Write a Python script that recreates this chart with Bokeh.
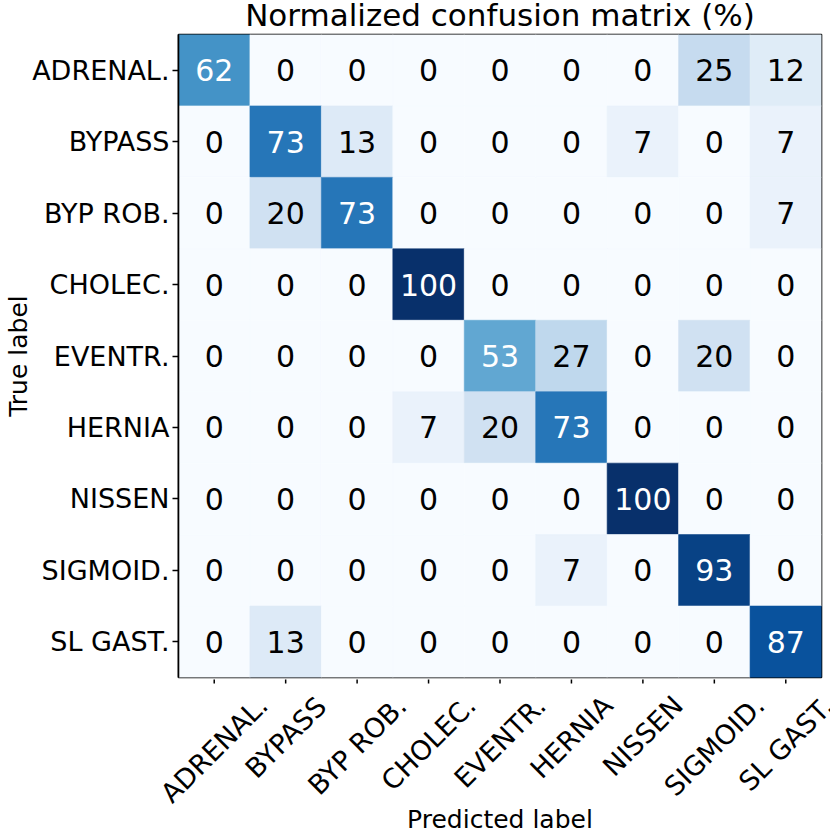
import math
from bokeh.plotting import figure
from bokeh.layouts import column
from bokeh.models import ColumnDataSource, FactorRange, Range1d
from bokeh.transform import linear_cmap
from bokeh.palettes import Blues256
from bokeh.core.properties import value
from bokeh.embed import file_html
from bokeh.resources import INLINE

labels = ["ADRENAL.", "BYPASS", "BYP ROB.", "CHOLEC.", "EVENTR.",
          "HERNIA", "NISSEN", "SIGMOID.", "SL GAST."]

matrix = [
    [62, 0, 0, 0, 0, 0, 0, 25, 12],
    [0, 73, 13, 0, 0, 0, 7, 0, 7],
    [0, 20, 73, 0, 0, 0, 0, 0, 7],
    [0, 0, 0, 100, 0, 0, 0, 0, 0],
    [0, 0, 0, 0, 53, 27, 0, 20, 0],
    [0, 0, 0, 7, 20, 73, 0, 0, 0],
    [0, 0, 0, 0, 0, 0, 100, 0, 0],
    [0, 0, 0, 0, 0, 7, 0, 93, 0],
    [0, 13, 0, 0, 0, 0, 0, 0, 87],
]

title_text = "Normalized confusion matrix (%)"
xlabel_text = "Predicted label"
ylabel_text = "True label"

FONT = "DejaVu Sans"
TICK_PX = 27
N = len(labels)

# layout (pixels)
W_TOTAL = 830
LEFT, FRAME, RIGHT = 178, 643, 9
TOP_H = 33
MAIN_BOTTOM = 2
MAIN_H = 1 + FRAME + MAIN_BOTTOM
BOT_H = 829 - TOP_H - MAIN_H
CELL = FRAME / N
x_lo, x_hi = -LEFT / CELL, N + (W_TOTAL - LEFT - FRAME) / CELL


def band(height, y_range):
    f = figure(width=W_TOTAL, height=height, output_backend="svg",
               toolbar_location=None, x_range=Range1d(x_lo, x_hi),
               y_range=y_range, x_axis_type=None, y_axis_type=None,
               min_border=0, frame_align=False)
    f.grid.visible = False
    f.outline_line_color = None
    f.background_fill_color = "white"
    f.border_fill_color = "white"
    return f


# ---- title band ----
top = band(TOP_H, Range1d(0, TOP_H))
top.text(x=[N / 2], y=[TOP_H - 14.5], text=[title_text], text_align="center",
         text_baseline="middle", text_font=value(FONT),
         text_font_size="31px", text_color="black")

# ---- matrix ----
xs, ys, vals, txt, tcol = [], [], [], [], []
for i, row in enumerate(matrix):
    for j, v in enumerate(row):
        xs.append(labels[j])
        ys.append(labels[i])
        vals.append(v)
        txt.append(str(v))
        tcol.append("white" if v > 50 else "black")
src = ColumnDataSource(dict(x=xs, y=ys, v=vals, t=txt, c=tcol))

p = figure(width=W_TOTAL, height=MAIN_H, output_backend="svg",
           toolbar_location=None, frame_align=False, x_axis_location=None,
           x_range=FactorRange(*labels), y_range=FactorRange(*labels[::-1]),
           min_border_left=LEFT, min_border_right=RIGHT, min_border_top=1,
           min_border_bottom=MAIN_BOTTOM)
cmap = linear_cmap("v", list(Blues256[::-1]), 0, 100)
p.rect(x="x", y="y", width=1, height=1, source=src, fill_color=cmap,
       line_color=cmap, line_width=0.6)
p.text(x="x", y="y", text="t", source=src, text_color="c",
       text_align="center", text_baseline="middle",
       text_font=value(FONT), text_font_size="30px")
p.grid.visible = False
p.outline_line_color = "black"
p.outline_line_width = 1.6
p.background_fill_color = "white"
ax = p.yaxis[0]
ax.major_label_text_font = FONT
ax.major_label_text_font_size = f"{TICK_PX}px"
ax.major_label_text_color = "black"
ax.major_tick_out = 6
ax.major_tick_in = 0
ax.major_tick_line_width = 1.5
ax.axis_line_width = 1.6
ax.major_label_standoff = 3
ax.axis_label = ylabel_text
ax.axis_label_text_font = FONT
ax.axis_label_text_font_size = "25px"
ax.axis_label_text_font_style = "normal"
ax.axis_label_text_color = "black"
ax.axis_label_standoff = -4

# ---- x ticks, rotated x tick labels, x axis label ----
bot = band(BOT_H, Range1d(-(MAIN_BOTTOM + BOT_H), -MAIN_BOTTOM))
WID = {"A": .684, "B": .686, "C": .698, "D": .770, "E": .632, "F": .575,
       "G": .775, "H": .752, "I": .295, "L": .557, "M": .863, "N": .748,
       "O": .787, "P": .603, "R": .695, "S": .635, "T": .611, "V": .684,
       "Y": .611, ".": .318, " ": .318}
Hh = 1.164 * TICK_PX
lx, ly = [], []
for k, lab in enumerate(labels):
    L = sum(WID.get(ch, .65) for ch in lab) * TICK_PX
    lx.append(k + 0.5)
    ly.append(-(12 + (L + Hh) * math.sqrt(0.5) / 2))
bot.segment(x0=lx, y0=[0] * N, x1=lx, y1=[-6] * N, line_color="black",
            line_width=1.5)
bot.text(x=lx, y=ly, text=labels, angle=math.pi / 4, text_align="center",
         text_baseline="middle", text_font=value(FONT),
         text_font_size=f"{TICK_PX}px", text_color="black")
bot.text(x=[N / 2], y=[-142], text=[xlabel_text], text_align="center",
         text_baseline="middle", text_font=value(FONT),
         text_font_size="25px", text_color="black")

layout = column(top, p, bot, spacing=0)
open("out.html", "w").write(file_html(layout, INLINE))
